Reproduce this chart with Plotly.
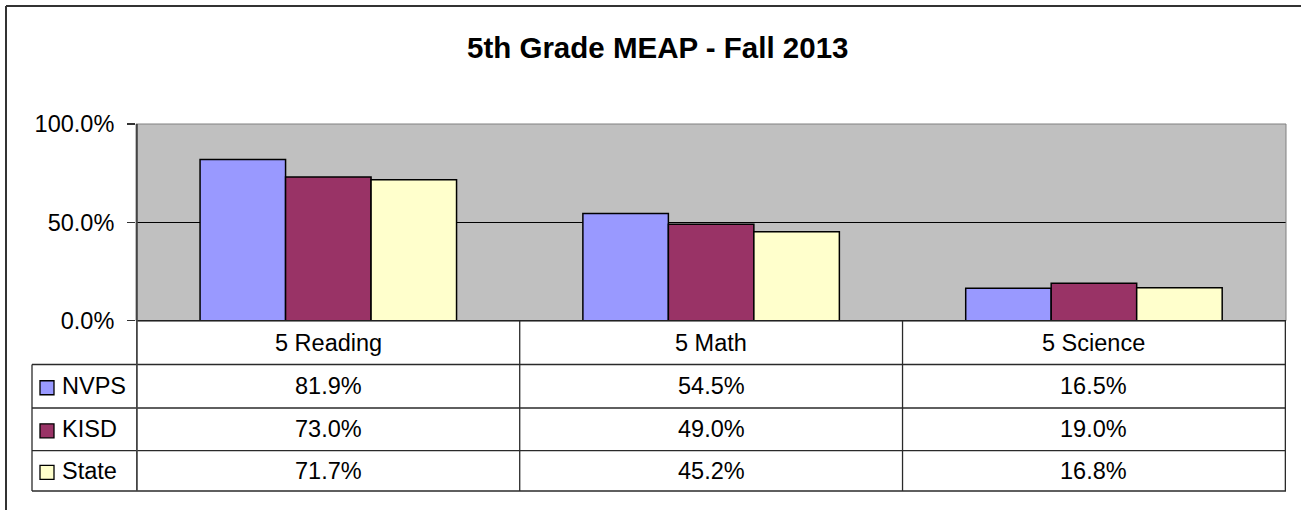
import plotly.graph_objects as go

# ---- data ----
categories = ["5 Reading", "5 Math", "5 Science"]
series_names = ["NVPS", "KISD", "State"]
nvps = [0.819, 0.545, 0.165]
kisd = [0.730, 0.490, 0.190]
state = [0.717, 0.452, 0.168]
colors = ["#9999FF", "#993366", "#FFFFCC"]
title_text = "5th Grade MEAP - Fall 2013"
y_ticks = [0, 0.5, 1.0]

W, H = 1301, 510
FONT = "Liberation Sans, Arial, Helvetica, sans-serif"
FS = 23.5

def fx(px):
    return px / W

def fy(py):
    return 1 - py / H

# layout geometry (pixels)
PLOT_L, PLOT_R, PLOT_T, PLOT_B = 136, 1286, 124, 320.7
TABLE_L = 32
ROW_EDGES = [320.7, 364.5, 408, 450.7, 491]

fig = go.Figure()
for name, vals, col in zip(series_names, [nvps, kisd, state], colors):
    fig.add_trace(go.Bar(
        x=categories, y=vals, name=name,
        marker=dict(color=col, line=dict(color="black", width=1.5)),
        showlegend=False,
    ))

shapes = []
annotations = []

# plot area border
shapes.append(dict(type="rect", xref="x domain", yref="y domain", x0=0, x1=1, y0=0, y1=1,
                   line=dict(color="#808080", width=1), layer="above"))
# bottom axis line
shapes.append(dict(type="line", xref="x domain", yref="y domain", x0=0, x1=1, y0=0, y1=0,
                   line=dict(color="#222222", width=1.5), layer="above"))

# table horizontal lines
for ry in ROW_EDGES[1:]:
    shapes.append(dict(type="line", xref="paper", yref="paper",
                       x0=fx(TABLE_L), x1=fx(PLOT_R), y0=fy(ry), y1=fy(ry),
                       line=dict(color="#2a2a2a", width=1.3)))
# table vertical lines (category boundaries)
n = len(categories)
for k in range(n + 1):
    xb = k - 0.5
    top = ROW_EDGES[0] if k > 0 else PLOT_T
    shapes.append(dict(type="line", xref="x", yref="paper",
                       x0=xb, x1=xb, y0=fy(top), y1=fy(ROW_EDGES[-1]),
                       line=dict(color="#444444" if k == 0 else "#2a2a2a",
                                 width=1.8 if k == 0 else 1.3),
                       layer="above"))
# left edge of legend column
shapes.append(dict(type="line", xref="paper", yref="paper",
                   x0=fx(TABLE_L), x1=fx(TABLE_L), y0=fy(ROW_EDGES[1]), y1=fy(ROW_EDGES[-1]),
                   line=dict(color="#2a2a2a", width=1.3)))

# outer chart border (left & top visible)
shapes.append(dict(type="line", xref="paper", yref="paper", x0=fx(6), x1=fx(6), y0=fy(6), y1=-0.1,
                   line=dict(color="#333333", width=2)))
shapes.append(dict(type="line", xref="paper", yref="paper", x0=fx(6), x1=1.1, y0=fy(6), y1=fy(6),
                   line=dict(color="#333333", width=2)))

# category header labels
hdr_mid = (ROW_EDGES[0] + ROW_EDGES[1]) / 2
for c in categories:
    annotations.append(dict(x=c, xref="x", y=fy(hdr_mid), yref="paper", text=c,
                            showarrow=False, xanchor="center", yanchor="middle",
                            font=dict(family=FONT, size=FS, color="black")))

# rows: legend key + values
for r, (name, vals, col) in enumerate(zip(series_names, [nvps, kisd, state], colors)):
    mid = (ROW_EDGES[r + 1] + ROW_EDGES[r + 2]) / 2
    shapes.append(dict(type="rect", xref="paper", yref="paper",
                       x0=fx(40), x1=fx(54), y0=fy(mid - 5.5), y1=fy(mid + 8.5),
                       fillcolor=col, line=dict(color="black", width=1.3)))
    annotations.append(dict(x=fx(60), xref="paper", y=fy(mid), yref="paper", text=name,
                            showarrow=False, xanchor="left", yanchor="middle",
                            font=dict(family=FONT, size=FS, color="black")))
    for c, v in zip(categories, vals):
        annotations.append(dict(x=c, xref="x", y=fy(mid), yref="paper", text=f"{v*100:.1f}%",
                                showarrow=False, xanchor="center", yanchor="middle",
                                font=dict(family=FONT, size=FS, color="black")))

# title
annotations.append(dict(x=fx(657), xref="paper", y=fy(47), yref="paper", text=f"<b>{title_text}</b>",
                        showarrow=False, xanchor="center", yanchor="middle",
                        font=dict(family=FONT, size=29.5, color="black")))

fig.update_layout(
    template="none",
    width=W, height=H,
    autosize=False,
    margin=dict(l=0, r=0, t=0, b=0, pad=0, autoexpand=False),
    paper_bgcolor="white",
    plot_bgcolor="#C0C0C0",
    barmode="group",
    bargap=0.33,
    bargroupgap=0,
    hovermode=False,
    xaxis=dict(domain=[fx(PLOT_L), fx(PLOT_R)], showticklabels=False, ticks="",
               showgrid=False, zeroline=False, showline=False, fixedrange=True,
               automargin=False),
    yaxis=dict(domain=[fy(PLOT_B), fy(PLOT_T)], range=[0, 1], tickvals=y_ticks,
               tickformat=".1%", ticks="outside", ticklen=8, tickcolor="#333333",
               tickwidth=1.3, ticklabelstandoff=8, automargin=False,
               showgrid=True, gridcolor="black", gridwidth=1, zeroline=False,
               showline=False, fixedrange=True,
               tickfont=dict(family=FONT, size=FS, color="black")),
    shapes=shapes,
    annotations=annotations,
    font=dict(family=FONT),
)

fig.write_html("out.html",
               config={"displayModeBar": False, "staticPlot": True},
               post_script="document.body.style.margin='0';document.body.style.padding='0';")
